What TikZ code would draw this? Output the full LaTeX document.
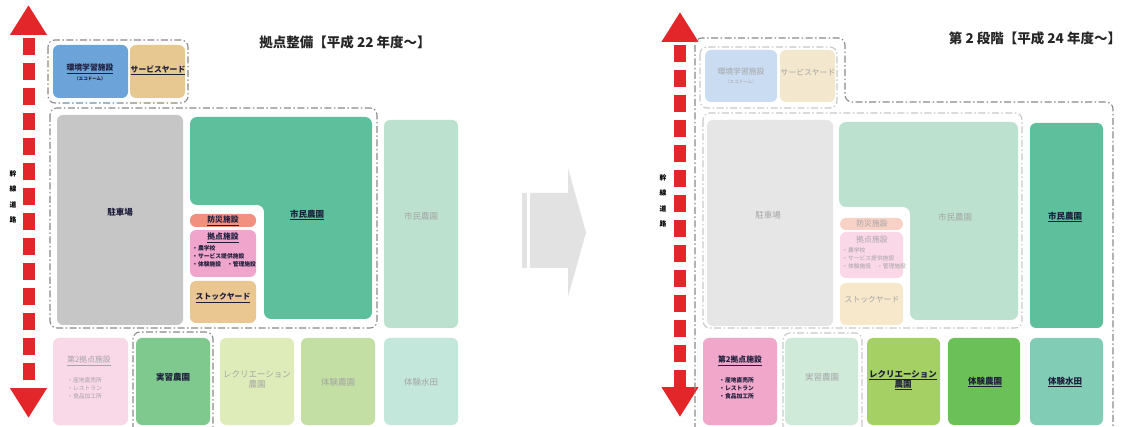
\documentclass[tikz,border=0pt]{standalone}
\usepackage{fontspec}
\newfontfamily\jp{Noto Sans CJK JP}
\usetikzlibrary{fit,arrows.meta}
\definecolor{ink}{HTML}{1E1E3C}
\definecolor{fadeink}{HTML}{A4A4A4}
\definecolor{grpgray}{HTML}{8A8A8A}
\definecolor{fgrpgray}{HTML}{C8C8C8}
\definecolor{roadred}{HTML}{E3262A}
\definecolor{cArrow}{HTML}{E2E2E2}
% left panel colours
\definecolor{cEnv}{HTML}{6CA3D9}
\definecolor{cTan}{HTML}{E6C890}
\definecolor{cPark}{HTML}{C6C6C6}
\definecolor{cFarm}{HTML}{5EBF9C}
\definecolor{cDis}{HTML}{F1907F}
\definecolor{cBase}{HTML}{F0A6CC}
\definecolor{cStock}{HTML}{EAC690}
\definecolor{cFarmF}{HTML}{BCE2CF}
\definecolor{cSecF}{HTML}{F9D8E8}
\definecolor{cPrac}{HTML}{7FC98F}
\definecolor{cRecF}{HTML}{DDECB8}
\definecolor{cExpF}{HTML}{C3DFA3}
\definecolor{cPadF}{HTML}{C4E7DB}
% right panel colours
\definecolor{cEnvF}{HTML}{CADCF1}
\definecolor{cTanF}{HTML}{F3E7CD}
\definecolor{cParkF}{HTML}{E6E6E6}
\definecolor{cDisF}{HTML}{F9D1C6}
\definecolor{cBaseF}{HTML}{FBD8E8}
\definecolor{cStockF}{HTML}{F7E7CB}
\definecolor{cSec}{HTML}{F0A7C9}
\definecolor{cPracF}{HTML}{CFEAD8}
\definecolor{cRec}{HTML}{A5D064}
\definecolor{cExp}{HTML}{6CC058}
\definecolor{cPad}{HTML}{80CCB5}
\begin{document}
\begin{tikzpicture}[x=1pt,y=-1pt,
  box/.style={rounded corners=6pt, inner sep=0pt, outer sep=0pt, draw=none},
  lbl/.style={font=\jp\bfseries\fontsize{8.5}{10}\selectfont, text=ink, inner sep=0pt, align=center},
  flbl/.style={font=\jp\fontsize{8.5}{10}\selectfont, text=fadeink, inner sep=0pt, align=center},
  small/.style={font=\jp\bfseries\fontsize{5.8}{8.3}\selectfont, text=ink, inner sep=0pt, align=left},
  fsmall/.style={font=\jp\fontsize{5.8}{8.3}\selectfont, text=fadeink, inner sep=0pt, align=left},
  grp/.style={draw=grpgray, line width=1.1pt, dash pattern=on 7pt off 2.5pt on 1.5pt off 2.5pt, rounded corners=7pt},
  fgrp/.style={grp, draw=fgrpgray},
  road/.style={draw=roadred, line width=12pt, dash pattern=on 17pt off 8pt, dash phase=-5pt,
    {Triangle[width=35pt,length=30pt]}-{Triangle[width=35pt,length=30pt]}},
  roadtxt/.style={font=\jp\bfseries\fontsize{6.8}{15.5}\selectfont, text=black, inner sep=0pt, align=center},
  title/.style={font=\jp\bfseries\fontsize{13.5}{15}\selectfont, text=black!85, inner sep=0pt}]
\useasboundingbox (0,0) rectangle (1124,427);
\fill[white] (0,0) rectangle (1124,427);

%================ LEFT PANEL ================
\coordinate (roadLtop) at (28.5,5);
\coordinate (roadLbot) at (28.5,418);
\draw[road] (roadLtop) -- (roadLbot);
\node[roadtxt] (roadLtxt) at (13,197) {幹\\線\\道\\路};
\node[title] (titleL) at (345,42) {拠点整備【平成 22 年度〜】};

\node[box, fill=cEnv, fit={(53,45) (128,98)}] (envL) {};
\node[box, fill=cTan, fit={(130,45) (185,98)}] (svyL) {};
\node[box, fill=cPark, fit={(57,115) (183,325)}] (parkL) {};
\fill[cFarm, rounded corners=7pt] (190,117) -- (372,117) -- (372,319) -- (264,319) -- (264,205) -- (190,205) -- cycle;
\node[box, fill=cDis, fit={(190,214) (256,227)}] (disL) {};
\node[box, fill=cBase, fit={(190,230) (256,277)}] (baseL) {};
\node[box, fill=cStock, fit={(190,281) (256,323)}] (stockL) {};
\node[box, fill=cFarmF, fit={(384,120) (458,328)}] (farm2L) {};
\node[box, fill=cSecF, fit={(53,338) (128,425)}] (secL) {};
\node[box, fill=cPrac, fit={(136,338) (210,425)}] (pracL) {};
\node[box, fill=cRecF, fit={(220,338) (294,425)}] (recL) {};
\node[box, fill=cExpF, fit={(301,338) (375,425)}] (expL) {};
\node[box, fill=cPadF, fit={(384,338) (458,425)}] (padL) {};

\draw[grp] (48,40) rectangle (188,103);
\draw[grp] (50,108) rectangle (377,328);
\draw[grp] (133,430) -- (133,332) -- (213,332) -- (213,430);

\node[lbl, font=\jp\bfseries\fontsize{7.8}{9}\selectfont] (envLt) at (90,69) {\underline{環境学習施設}};
\node[lbl, font=\jp\bfseries\fontsize{4.5}{5}\selectfont] (envLs) at (90,79) {（エコドーム）};
\node[lbl, font=\jp\bfseries\fontsize{7.8}{9}\selectfont] (svyLt) at (158,70) {\underline{サービスヤード}};
\node[lbl] (parkLt) at (120,212) {駐車場};
\node[lbl] (farmLt) at (307,215) {\underline{市民農園}};
\node[lbl, font=\jp\bfseries\fontsize{7.8}{9}\selectfont] (disLt) at (223,221) {\underline{防災施設}};
\node[lbl, font=\jp\bfseries\fontsize{7.8}{9}\selectfont] (baseLt) at (223,238) {\underline{拠点施設}};
\node[small, anchor=north west] (baseLl) at (192,245) {・農学校\\・サービス提供施設\\・体験施設　・管理施設};
\node[lbl, font=\jp\bfseries\fontsize{7.8}{9}\selectfont] (stockLt) at (223,298) {\underline{ストックヤード}};
\node[flbl] (farm2Lt) at (421,216) {市民農園};
\node[flbl, font=\jp\fontsize{7.8}{9}\selectfont] (secLt) at (89,361) {\underline{第2拠点施設}};
\node[fsmall, anchor=north west] (secLl) at (67,377) {・産地直売所\\・レストラン\\・食品加工所};
\node[lbl] (pracLt) at (173,377) {実習農園};
\node[flbl] (recLt) at (257,379) {レクリエーション\\農園};
\node[flbl] (expLt) at (338,382) {体験農園};
\node[flbl] (padLt) at (421,382) {体験水田};

%================ MIDDLE ARROW ================
\fill[cArrow] (522,193) -- (568,193) -- (568,168) -- (586,232.5) -- (568,297) -- (568,268) -- (522,268) -- cycle;
\fill[white] (526.5,193) rectangle (529.5,268);

%================ RIGHT PANEL ================
\coordinate (roadRtop) at (680,12);
\coordinate (roadRbot) at (680,417);
\draw[road] (roadRtop) -- (roadRbot);
\node[roadtxt] (roadRtxt) at (663,201) {幹\\線\\道\\路};
\node[title] (titleR) at (1035,38) {第 2 段階【平成 24 年度〜】};

\node[box, fill=cEnvF, fit={(705,50) (777,102)}] (envR) {};
\node[box, fill=cTanF, fit={(780,50) (835,102)}] (svyR) {};
\node[box, fill=cParkF, fit={(707,120) (833,326)}] (parkR) {};
\fill[cFarmF, rounded corners=7pt] (839,122) -- (1018,122) -- (1018,320) -- (910,320) -- (910,207) -- (839,207) -- cycle;
\node[box, fill=cDisF, fit={(840,218) (903,230)}] (disR) {};
\node[box, fill=cBaseF, fit={(840,232) (903,278)}] (baseR) {};
\node[box, fill=cStockF, fit={(840,283) (903,325)}] (stockR) {};
\node[box, fill=cFarm, fit={(1030,123) (1103,328)}] (farmR) {};
\node[box, fill=cSec, fit={(703,338) (777,425)}] (secR) {};
\node[box, fill=cPracF, fit={(785,338) (858,425)}] (pracR) {};
\node[box, fill=cRec, fit={(867,338) (940,425)}] (recR) {};
\node[box, fill=cExp, fit={(948,338) (1020,425)}] (expR) {};
\node[box, fill=cPad, fit={(1030,338) (1103,425)}] (padR) {};

\draw[fgrp] (700,47) rectangle (837,108);
\draw[fgrp] (703,113) rectangle (1022,328);
\draw[fgrp] (783,430) -- (783,333) -- (862,333) -- (862,430);
\draw[grp] (695,430) -- (695,38) -- (845,38) -- (845,102) -- (1113,102) -- (1113,430);

\node[flbl, font=\jp\fontsize{7.8}{9}\selectfont] (envRt) at (741,72) {環境学習施設};
\node[flbl, font=\jp\fontsize{4.5}{5}\selectfont] (envRs) at (741,82) {（エコドーム）};
\node[flbl, font=\jp\fontsize{7.8}{9}\selectfont] (svyRt) at (808,72) {サービスヤード};
\node[flbl] (parkRt) at (768,215) {駐車場};
\node[flbl] (farmRt) at (955,217) {市民農園};
\node[flbl, font=\jp\fontsize{7.8}{9}\selectfont] (disRt) at (872,224) {防災施設};
\node[flbl, font=\jp\fontsize{7.8}{9}\selectfont] (baseRt) at (872,240) {拠点施設};
\node[fsmall, anchor=north west] (baseRl) at (842,247) {・農学校\\・サービス提供施設\\・体験施設　・管理施設};
\node[flbl, font=\jp\fontsize{7.8}{9}\selectfont] (stockRt) at (872,300) {ストックヤード};
\node[lbl] (farmRRt) at (1065,217) {\underline{市民農園}};
\node[lbl, font=\jp\bfseries\fontsize{7.8}{9}\selectfont] (secRt) at (740,361) {\underline{第2拠点施設}};
\node[small, anchor=north west] (secRl) at (719,377) {・産地直売所\\・レストラン\\・食品加工所};
\node[flbl] (pracRt) at (822,377) {実習農園};
\node[lbl] (recRt) at (903,380) {\underline{レクリエーション}\\\underline{農園}};
\node[lbl] (expRt) at (985,382) {\underline{体験農園}};
\node[lbl] (padRt) at (1065,382) {\underline{体験水田}};
\end{tikzpicture}
\end{document}
